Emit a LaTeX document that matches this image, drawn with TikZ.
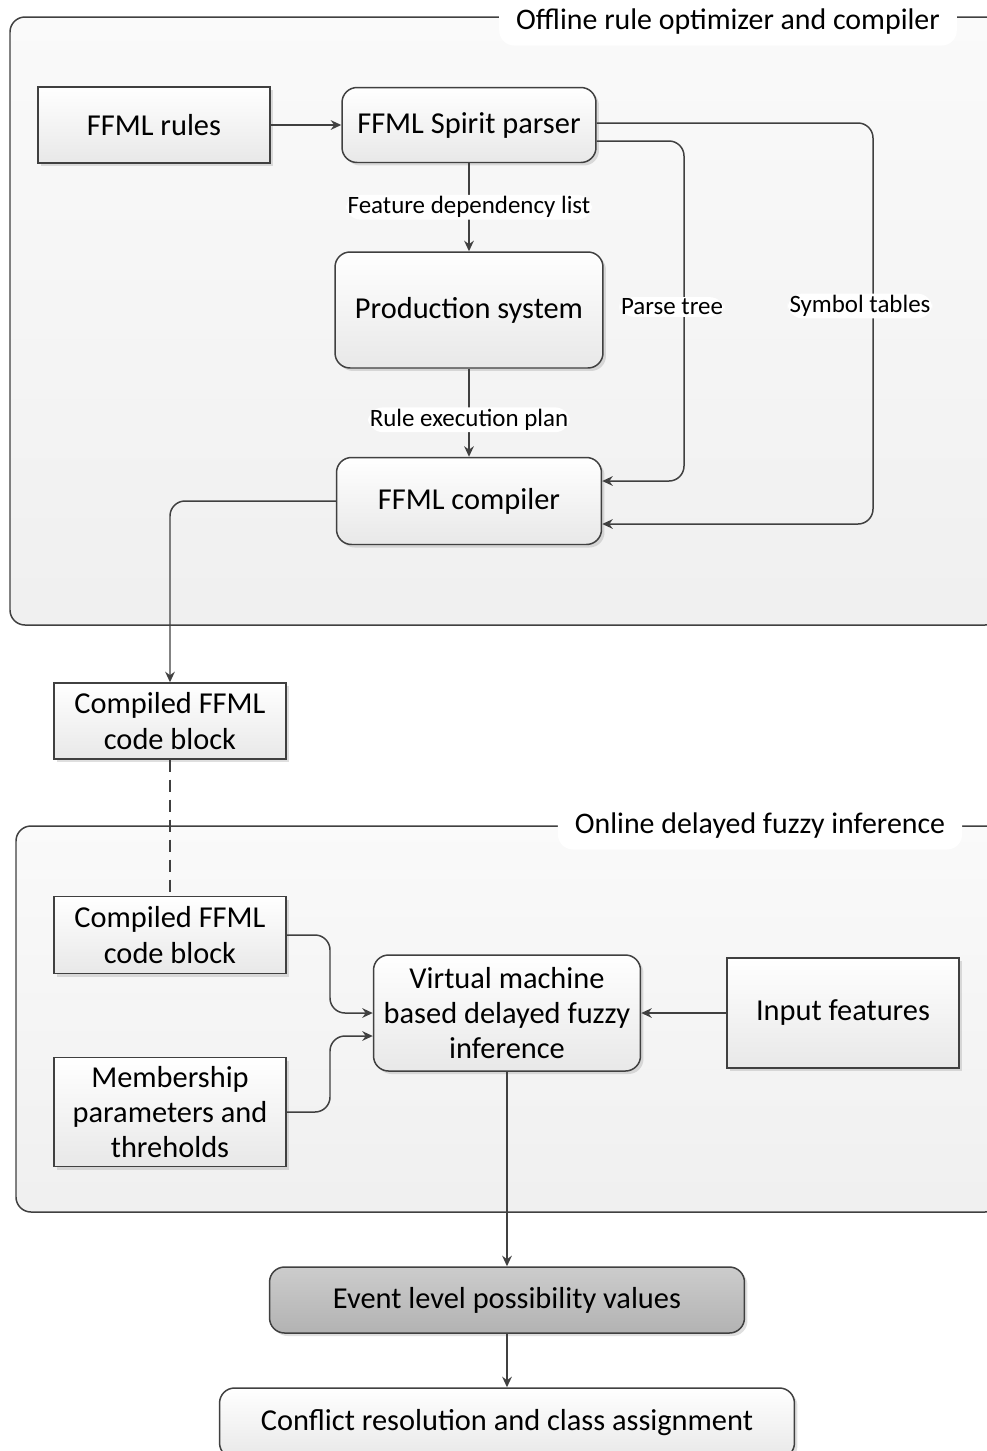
\documentclass[tikz,border=0pt]{standalone}
\usepackage{fontspec}
\setmainfont{Carlito}
\usepackage{tikz}
\usetikzlibrary{arrows.meta,shadows,positioning}
\tikzset{>={Stealth[length=6pt,width=5.5pt]}}

\begin{document}
\begin{tikzpicture}[x=0.02cm, y=-0.02cm,
                    group/.style={draw=black!75, line width=0.85pt, rounded corners=0.3cm,
                                  top color=black!2, bottom color=black!6},
                    grouptitle/.style={fill=white, rounded corners=0.3cm, inner xsep=0.34cm,
                                       minimum height=0.94cm, font=\fontsize{17}{20}\selectfont},
                    block/.style={draw=black!75, line width=0.85pt, top color=white, bottom color=black!9,
                                  drop shadow={shadow xshift=0.06cm, shadow yshift=-0.06cm, opacity=0.25},
                                  align=center, inner sep=2pt, font=\fontsize{17.3}{20}\selectfont},
                    rblock/.style={block, rounded corners=0.3cm},
                    result/.style={rblock, top color=black!20, bottom color=black!30},
                    conn/.style={draw=black!75, line width=0.85pt, rounded corners=0.3cm},
                    lbl/.style={fill=white, inner sep=1pt, font=\fontsize{14.2}{17}\selectfont},
                   ]

\useasboundingbox (0,0) rectangle (987,1451);

% the two stages
\draw[group] (10,17) rectangle (1000,625);
\node[grouptitle] (offline) at (728,22) {Offline rule optimizer and compiler};
\draw[group] (16,826) rectangle (1000,1212);
\node[grouptitle] (online) at (760,826) {Online delayed fuzzy inference};

% offline part
\node[block, minimum width=4.64cm, minimum height=1.52cm] (rules) at (154,125) {FFML rules};
\node[rblock, minimum width=5.08cm, minimum height=1.5cm] (parser) at (469,125) {FFML Spirit parser};
\node[rblock, minimum width=5.36cm, minimum height=2.32cm] (prod) at (469,310) {Production system};
\node[rblock, minimum width=5.3cm, minimum height=1.74cm] (compiler) at (469,501) {FFML compiler};

\node[block, minimum width=4.64cm, minimum height=1.52cm] (code) at (170,721) {Compiled FFML\\code block};

% online part
\node[block, minimum width=4.64cm, minimum height=1.54cm] (code2) at (170,935) {Compiled FFML\\code block};
\node[block, minimum width=4.64cm, minimum height=2.18cm] (member) at (170,1112) {Membership\\parameters and\\threholds};
\node[rblock, minimum width=5.34cm, minimum height=2.32cm] (vm) at (507,1013) {Virtual machine\\based delayed fuzzy\\inference};
\node[block, minimum width=4.64cm, minimum height=2.2cm] (input) at (843,1013) {Input features};

\node[result, minimum width=9.5cm, minimum height=1.32cm] (event) at (507,1300) {Event level possibility values};
\node[rblock, minimum width=11.5cm, minimum height=1.4cm] (conflict) at (507,1423) {Conflict resolution and class assignment};

% connectors
\coordinate (ptx) at (684,0);
\coordinate (stx) at (873,0);
\coordinate (jx) at (330,0);
\coordinate (pt-out) at ([yshift=-0.32cm]parser.east);
\coordinate (st-out) at ([yshift=0.04cm]parser.east);
\coordinate (pt-in) at ([yshift=0.4cm]compiler.east);
\coordinate (st-in) at ([yshift=-0.46cm]compiler.east);
\coordinate (mem-in) at ([yshift=-0.46cm]vm.west);

\draw[conn, ->] (rules) -- (parser);
\draw[conn, ->] (parser) -- node[lbl]{Feature dependency list} (prod);
\draw[conn, ->] (prod) -- node[lbl, pos=0.58]{Rule execution plan} (compiler);
\draw[conn, ->] (pt-out) -- (pt-out -| ptx) -- node[lbl, xshift=-0.24cm, yshift=0.08cm]{Parse tree} (pt-in -| ptx) -- (pt-in);
\draw[conn, ->] (st-out) -- (st-out -| stx) -- node[lbl, xshift=-0.26cm, yshift=0.35cm]{Symbol tables} (st-in -| stx) -- (st-in);
\draw[conn, ->] (compiler.west) -| (code.north);
\draw[conn, dash pattern=on 0.24cm off 0.16cm] (code.south) -- (code2.north);

\draw[conn, ->] (code2.east) -- (code2.east -| jx) -- (vm.west -| jx) -- (vm.west);
\draw[conn, ->] (member.east) -- (member.east -| jx) -- (mem-in -| jx) -- (mem-in);
\draw[conn, ->] (input) -- (vm);
\draw[conn, ->] (vm) -- (event);
\draw[conn, ->] (event) -- (conflict);

\end{tikzpicture}
\end{document}
